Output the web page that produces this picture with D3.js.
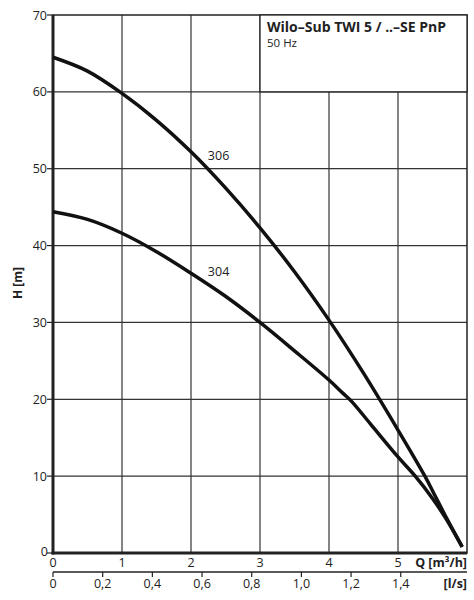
<!DOCTYPE html>
<html><head><meta charset="utf-8">
<script src="https://cdn.jsdelivr.net/npm/d3@7"></script>
<style>body{margin:0;background:#fff}text{font-family:"Open Sans","Noto Sans",sans-serif;fill:#222}</style>
</head><body><svg id="c" width="474" height="600"></svg>
<script>
const qTicks = [0,1,2,3,4,5];
const hTicks = [0,10,20,30,40,50,60,70];
const lsTicks = [0,0.2,0.4,0.6,0.8,1.0,1.2,1.4];
const lsLabels = ["0","0,2","0,4","0,6","0,8","1,0","1,2","1,4"];
const curve306 = [[0,64.5],[0.5,62.7],[1,59.8],[1.5,56.3],[2,52.2],[2.5,47.5],[3,42.3],[3.5,36.6],[4,30.3],[4.5,23.4],[5,16],[5.39,10],[5.5,8.1],[5.7,4.6],[5.93,0.8]];
const curve304 = [[0,44.4],[0.5,43.4],[1,41.6],[1.5,39.2],[2,36.4],[2.5,33.4],[3,30],[3.5,26.3],[4,22.5],[4.2,20.8],[4.33,19.7],[4.6,16.8],[5,12.5],[5.25,10],[5.5,7.1],[5.7,4.4],[5.93,0.8]];
const curveLabels = [{t:"306",q:2.23,h:51.1},{t:"304",q:2.23,h:36}];

const svg = d3.select("#c");
const L=53,R=467,T=15,B=553;
const x = d3.scaleLinear().domain([0,6]).range([L,R]);
const y = d3.scaleLinear().domain([0,70]).range([B,T]);
const xs = d3.scaleLinear().domain([0,6/3.6]).range([L,R]);

// grid
const g = svg.append("g").attr("stroke","#333").attr("stroke-width",1.2);
[1,2,3,4,5].forEach(q=>{
  g.append("line").attr("x1",x(q)).attr("x2",x(q)).attr("y1",B).attr("y2", q>3?y(60):T);
});
[10,20,30,40,50,60].forEach(h=>{
  g.append("line").attr("x1",L).attr("x2",R).attr("y1",y(h)).attr("y2",y(h));
});
// frame
svg.append("rect").attr("x",L).attr("y",T).attr("width",R-L).attr("height",B-T).attr("fill","none").attr("stroke","#222").attr("stroke-width",1.5);
svg.append("line").attr("x1",L).attr("x2",L).attr("y1",T).attr("y2",B+1.5).attr("stroke","#222").attr("stroke-width",3);
svg.append("line").attr("x1",L-1.5).attr("x2",R).attr("y1",B).attr("y2",B).attr("stroke","#222").attr("stroke-width",3);

// y ticks
hTicks.forEach(h=>{
  svg.append("line").attr("x1",L-6).attr("x2",L).attr("y1",y(h)).attr("y2",y(h)).attr("stroke","#222").attr("stroke-width",1.2);
  svg.append("text").attr("x",h===0?L-5:L-6).attr("y",y(h)+ (h===0?3:4.5)).attr("text-anchor","end").attr("font-size",12.5).text(h);
});
svg.append("text").attr("transform",`translate(22,283) rotate(-90)`).attr("text-anchor","middle").attr("font-size",12).attr("font-weight","bold").text("H [m]");

// x labels
qTicks.forEach(q=>{
  svg.append("text").attr("x",x(q)).attr("y",B+14).attr("text-anchor","middle").attr("font-size",12.5).text(q);
});
svg.append("text").attr("x",R).attr("y",B+14).attr("text-anchor","end").attr("font-size",12.5).attr("font-weight","bold").text("Q [m³/h]");

// secondary axis
const sy=572;
svg.append("line").attr("x1",L).attr("x2",R).attr("y1",sy).attr("y2",sy).attr("stroke","#222").attr("stroke-width",1.5);
lsTicks.forEach((v,i)=>{
  svg.append("line").attr("x1",xs(v)).attr("x2",xs(v)).attr("y1",sy).attr("y2",sy+5).attr("stroke","#222").attr("stroke-width",1.2);
  svg.append("text").attr("x",xs(v)).attr("y",sy+16).attr("text-anchor","middle").attr("font-size",12.5).text(lsLabels[i]);
});
svg.append("text").attr("x",R).attr("y",sy+16).attr("text-anchor","end").attr("font-size",12.5).attr("font-weight","bold").text("[l/s]");

// title box
svg.append("rect").attr("x",x(3)).attr("y",T).attr("width",R-x(3)).attr("height",y(60)-T).attr("fill","#fff").attr("stroke","#222").attr("stroke-width",1.3);
svg.append("text").attr("x",x(3)+7).attr("y",32).attr("font-size",14).attr("font-weight","bold").text("Wilo–Sub TWI 5 / ..–SE PnP");
svg.append("text").attr("x",x(3)+7).attr("y",47).attr("font-size",11.5).text("50 Hz");

// curves
const line = d3.line().x(d=>x(d[0])).y(d=>y(d[1])).curve(d3.curveCatmullRom.alpha(0.5));
[curve306,curve304].forEach(c=>{
  svg.append("path").attr("d",line(c)).attr("fill","none").attr("stroke","#111").attr("stroke-width",3.5).attr("stroke-linecap","butt");
});
curveLabels.forEach(l=>{
  svg.append("text").attr("x",x(l.q)+1).attr("y",y(l.h)).attr("font-size",12.5).text(l.t);
});
</script></body></html>
